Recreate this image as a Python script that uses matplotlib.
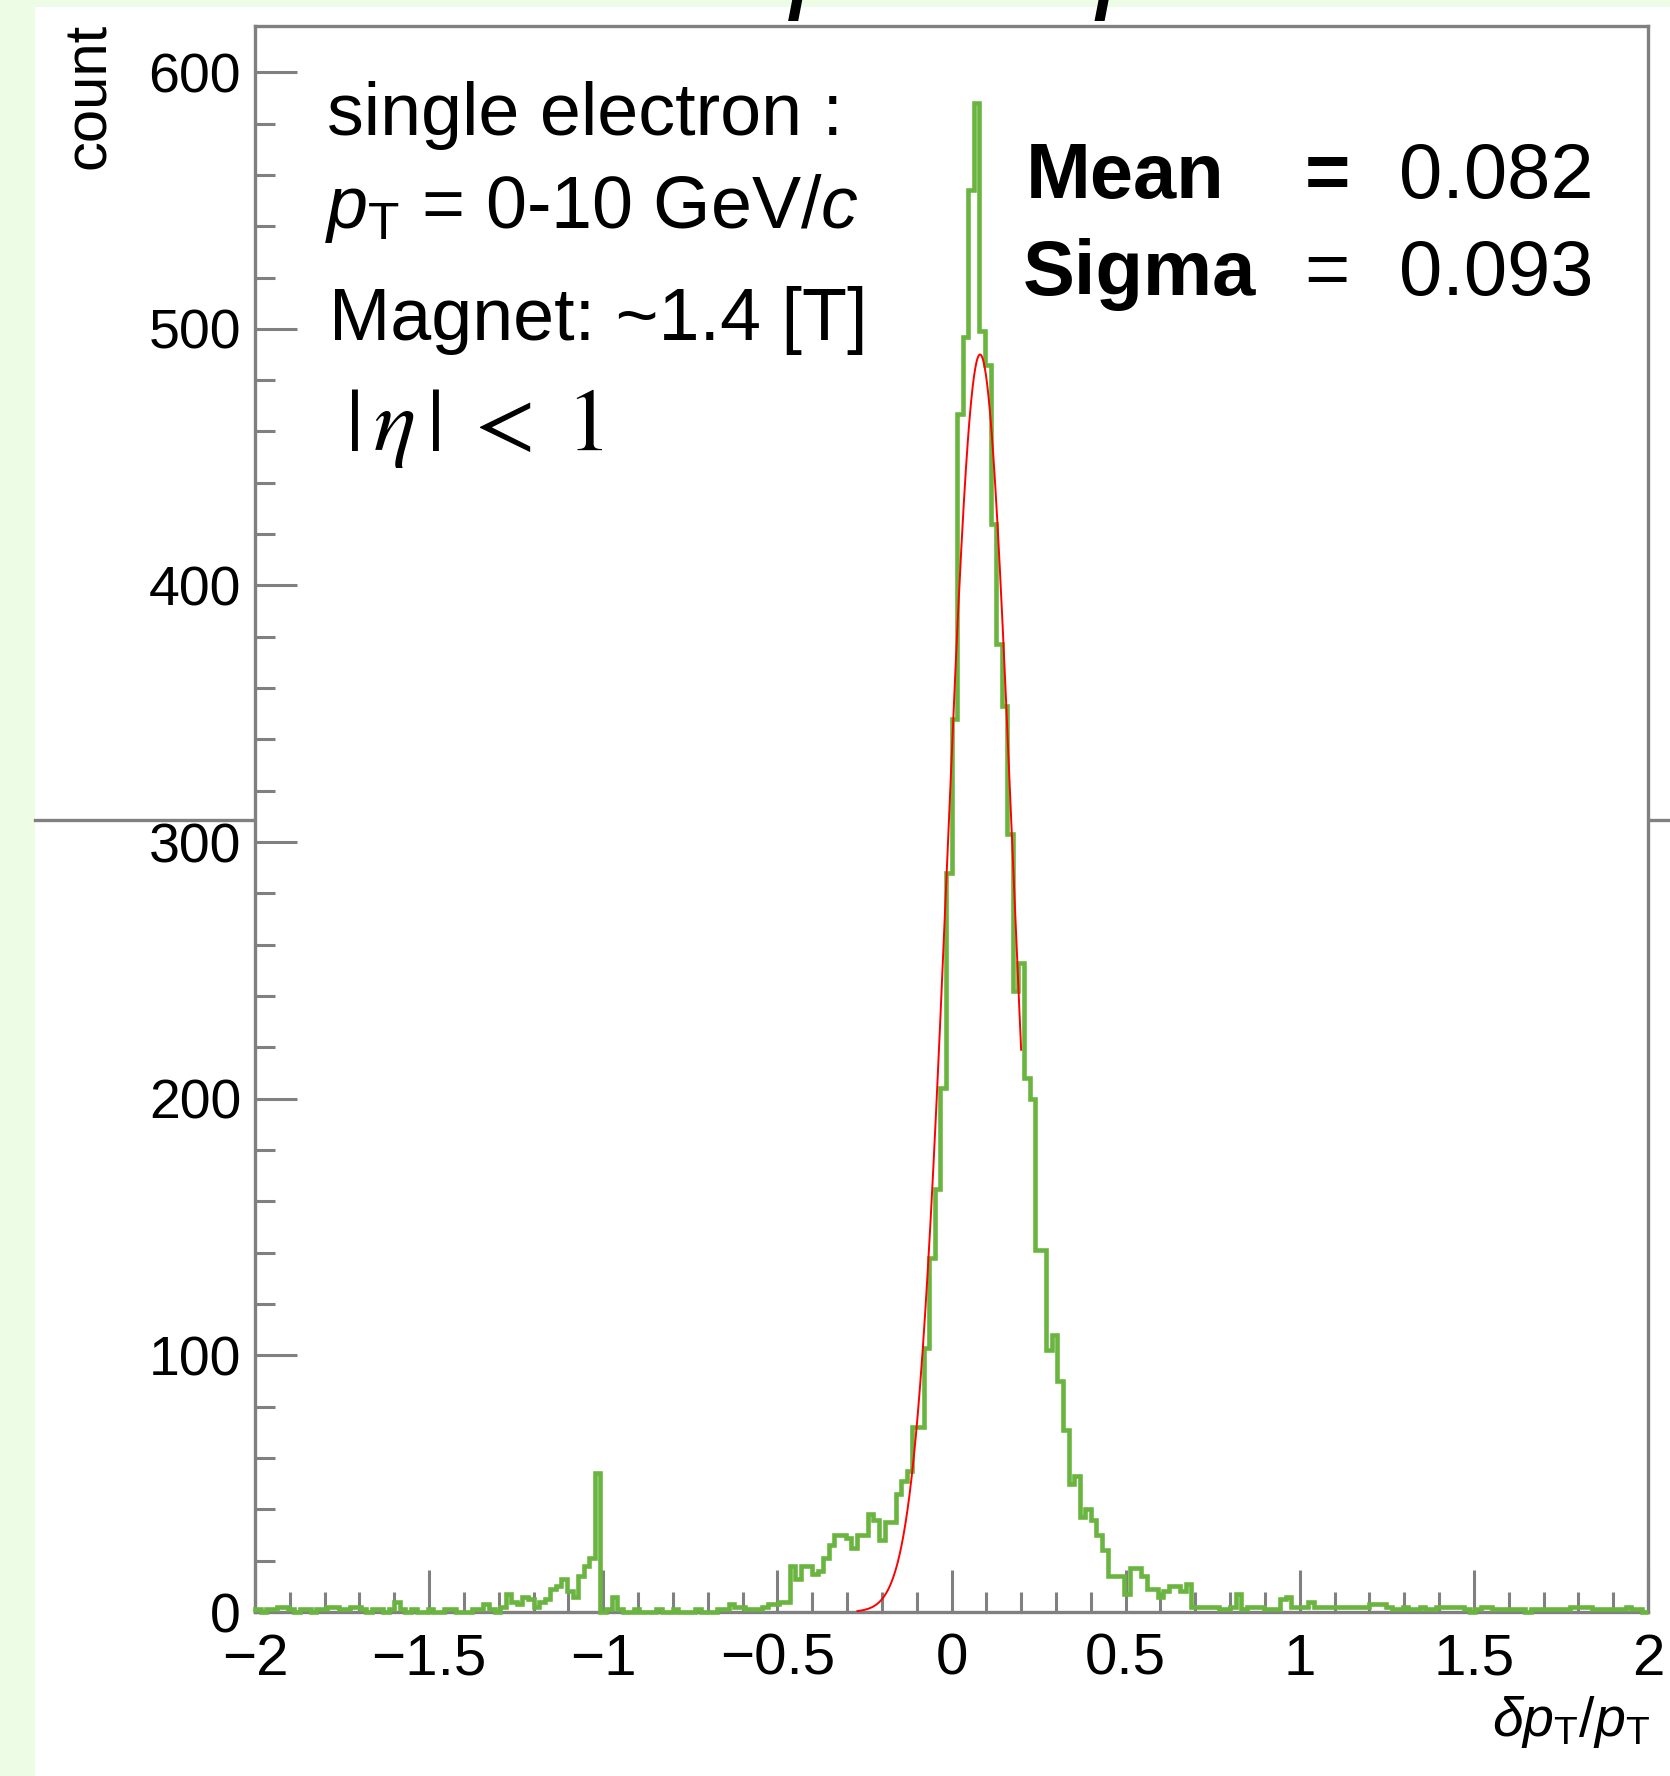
import numpy as np
import matplotlib
matplotlib.use("Agg")
import matplotlib.pyplot as plt
from matplotlib.patches import Rectangle
from matplotlib.lines import Line2D
from matplotlib.ticker import MultipleLocator, FixedLocator, FixedFormatter

# ---- data ----
X_RANGE = (-2.0, 2.0)
N_BINS = 250  # bin width 0.016

# bins 0-65 (x = -2 ... -0.94), includes the spike near -1
counts_left_tail = [1, 0, 1, 1, 2, 2, 1, 0, 1, 1,
                    0, 1, 1, 2, 2, 1, 1, 2, 2, 1,
                    0, 1, 1, 0, 1, 4, 1, 0, 1, 0,
                    0, 1, 0, 0, 1, 1, 0, 0, 0, 1,
                    1, 3, 1, 0, 2, 7, 4, 3, 6, 5,
                    2, 4, 5, 9, 10, 13, 8, 6, 14, 18,
                    21, 54, 0, 1, 6, 1]
# bins 66-95
counts_gap = [0, 0, 1, 0, 0, 0, 1, 0, 0, 1,
              0, 0, 0, 1, 0, 0, 0, 1, 1, 3,
              2, 2, 1, 1, 1, 2, 3, 3, 4, 4]
# bins 96-124 (rising side)
counts_rise = [18, 13, 18, 18, 15, 16, 21, 26, 30, 30,
               29, 25, 30, 30, 38, 36, 28, 35, 35, 46,
               51, 55, 72, 72, 103, 138, 165, 204, 288]
# bins 125-135 (peak)
counts_peak = [348, 467, 497, 554, 588, 499, 486, 424, 377, 353, 303]
# bins 136-176 (falling side)
counts_fall = [242, 253, 208, 200, 141, 141, 102, 108, 90, 71,
               50, 53, 37, 40, 36, 30, 24, 14, 14, 14,
               7, 17, 17, 14, 9, 9, 6, 8, 10, 10,
               8, 11, 2, 2, 2, 2, 2, 1, 1, 2, 7]
# bins 177-249
counts_right_tail = [1, 2, 2, 2, 1, 1, 1, 5, 6, 2,
                     2, 2, 4, 2, 2, 2, 2, 2, 2, 2,
                     2, 2, 2, 3, 3, 3, 2, 1, 1, 2,
                     1, 1, 2, 1, 1, 2, 2, 2, 2, 2,
                     1, 0, 1, 2, 2, 1, 1, 1, 1, 1,
                     1, 0, 1, 1, 1, 1, 1, 1, 1, 2,
                     2, 2, 2, 1, 1, 1, 1, 1, 1, 2,
                     1, 1, 0]

# gaussian fit
FIT_AMP = 490.0
FIT_MEAN = 0.082
FIT_SIGMA = 0.093
FIT_RANGE = (-0.27, 0.20)

xticks = [-2, -1.5, -1, -0.5, 0, 0.5, 1, 1.5, 2]
xtick_labels = ["\u22122", "\u22121.5", "\u22121", "\u22120.5", "0", "0.5", "1", "1.5", "2"]
yticks = [0, 100, 200, 300, 400, 500, 600]
Y_MAX = 618

info_lines = ["single electron :", r"$p_{\rm T}$ = 0-10 GeV/$c$", "Magnet: ~1.4 [T]"]
eta_cut = r"$|\,\eta\,|\; <\; 1$"

# ---- style ----
W, H = 1670, 1776
BG_GREEN = "#edfce4"
HIST_GREEN = "#6ab540"
FRAME_GRAY = "#808080"

plt.rcParams["font.family"] = ["Liberation Sans", "DejaVu Sans"]
plt.rcParams["mathtext.fontset"] = "custom"
plt.rcParams["mathtext.rm"] = "Liberation Sans"
plt.rcParams["mathtext.it"] = "Liberation Sans:italic"
plt.rcParams["mathtext.bf"] = "Liberation Sans:bold"


def fx(px):
    return px / W


def fy(py):
    return 1 - py / H


counts = np.array(counts_left_tail + counts_gap + counts_rise + counts_peak
                  + counts_fall + counts_right_tail, dtype=float)
assert len(counts) == N_BINS
edges = np.linspace(X_RANGE[0], X_RANGE[1], N_BINS + 1)

fig = plt.figure(figsize=(W / 100, H / 100), dpi=100)
fig.patch.set_facecolor(BG_GREEN)
# white slide area + stray horizontal line behind the plot
fig.add_artist(Rectangle((fx(35), 0), 1 - fx(35), fy(7), transform=fig.transFigure,
                         facecolor="white", edgecolor="none", zorder=-3))
fig.add_artist(Line2D([fx(35), 1.0], [fy(820), fy(820)], transform=fig.transFigure,
                      color=FRAME_GRAY, lw=2.4, zorder=-2))

ax = fig.add_axes([fx(255), fy(1612), fx(1648) - fx(255), fy(26) - fy(1612)])

ax.stairs(counts, edges, color=HIST_GREEN, lw=3.3, clip_on=False, zorder=3)

xf = np.linspace(FIT_RANGE[0], FIT_RANGE[1], 400)
yf = FIT_AMP * np.exp(-0.5 * ((xf - FIT_MEAN) / FIT_SIGMA) ** 2)
ax.plot(xf, yf, color="red", lw=1.4, zorder=4)

ax.set_xlim(*X_RANGE)
ax.set_ylim(0, Y_MAX)

ax.xaxis.set_major_locator(FixedLocator(xticks))
ax.xaxis.set_major_formatter(FixedFormatter(xtick_labels))
ax.xaxis.set_minor_locator(MultipleLocator(0.1))
ax.yaxis.set_major_locator(FixedLocator(yticks))
ax.yaxis.set_minor_locator(MultipleLocator(20))

ax.tick_params(which="both", direction="in", color=FRAME_GRAY, width=2.2,
               top=False, right=False, labelcolor="black")
ax.tick_params(which="major", length=30)
ax.tick_params(which="minor", length=14.5)
ax.tick_params(axis="x", labelsize=42, pad=15)
ax.tick_params(axis="y", labelsize=40, pad=10)

for sp in ax.spines.values():
    sp.set_color(FRAME_GRAY)
    sp.set_linewidth(2.4)

# axis titles
fig.text(fx(89), fy(23), "count", rotation=90, ha="center", va="top", fontsize=43)
fig.text(fx(1650), fy(1736), r"$\delta p_{\rm T}/p_{\rm T}$", ha="right", va="baseline",
         fontsize=40)

# cut-off title at the very top
fig.text(fx(791), fy(-3), "p  vs  p", fontsize=83, style="italic", ha="left",
         va="baseline")

# annotations
for txt, (x0, y0) in zip(info_lines, [(327, 135), (325, 228), (329, 340)]):
    fig.text(fx(x0), fy(y0), txt, fontsize=53, ha="left", va="baseline")
fig.text(fx(345), fy(450), eta_cut, fontsize=64, ha="left", va="baseline",
         math_fontfamily="stix")

# fit results box
stat_rows = [("Mean", "bold", f"{FIT_MEAN:.3f}", 1026, 198),
             ("Sigma", "normal", f"{FIT_SIGMA:.3f}", 1023, 295)]
for name, eq_weight, val, x0, y0 in stat_rows:
    fig.text(fx(x0), fy(y0), name, fontsize=56, fontweight="bold", ha="left", va="baseline")
    fig.text(fx(1327), fy(y0), "=", fontsize=56, fontweight=eq_weight, ha="center",
             va="baseline")
    fig.text(fx(1399), fy(y0), val, fontsize=56, ha="left", va="baseline")

fig.savefig("out.png", dpi=100, facecolor=fig.get_facecolor())
